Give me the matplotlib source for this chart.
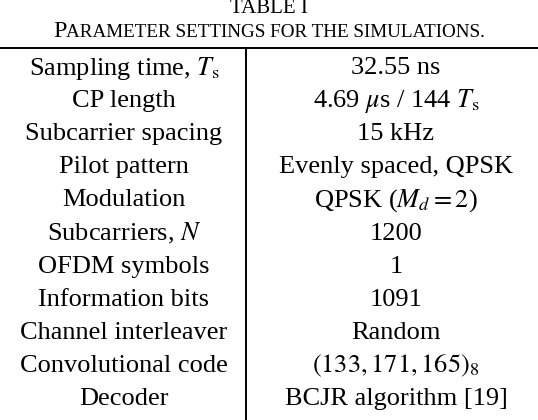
import matplotlib
matplotlib.use("Agg")
import matplotlib.pyplot as plt

plt.rcParams['font.family'] = ['Liberation Serif', 'DejaVu Serif']
plt.rcParams['mathtext.fontset'] = 'stix'

params = ["Sampling time, $T_\\mathrm{s}$", "CP length", "Subcarrier spacing",
          "Pilot pattern", "Modulation", "Subcarriers, $N$", "OFDM symbols",
          "Information bits", "Channel interleaver", "Convolutional code", "Decoder"]
values = ["32.55 ns", "4.69 $\\mu$s / 144 $T_\\mathrm{s}$", "15 kHz",
          "Evenly spaced, QPSK", "QPSK ($M_d = 2$)", "1200", "1", "1091",
          "Random", "$(133, 171, 165)_8$", "BCJR algorithm [19]"]

W, H = 538, 420
fig = plt.figure(figsize=(W / 100, H / 100), dpi=100)
ax = fig.add_axes([0, 0, 1, 1])
ax.set_xlim(0, W)
ax.set_ylim(H, 0)
ax.axis("off")

fs = 19
ax.text(W / 2, 13, "TABLE I", ha="center", va="baseline", fontsize=15)

# small caps subtitle
pieces = [("P", 17.5), ("ARAMETER SETTINGS FOR THE SIMULATIONS.", 13.8)]
fig.canvas.draw()
r = fig.canvas.get_renderer()
texts, widths = [], []
for s, f in pieces:
    t = ax.text(0, 37, s, ha="left", va="baseline", fontsize=f)
    texts.append(t)
    widths.append(t.get_window_extent(r).width)
x = (W - sum(widths)) / 2
for t, w in zip(texts, widths):
    t.set_x(x)
    x += w

ax.plot([0, W], [48, 48], color="black", lw=1.4)
ax.plot([246, 246], [48, H], color="black", lw=1.4)

y0, dy = 68, 33.1
for i, (p, v) in enumerate(zip(params, values)):
    y = y0 + i * dy
    ax.text(124, y, p, ha="center", va="center", fontsize=fs)
    ax.text(396, y, v, ha="center", va="center", fontsize=fs)

fig.savefig("out.png", dpi=100)
